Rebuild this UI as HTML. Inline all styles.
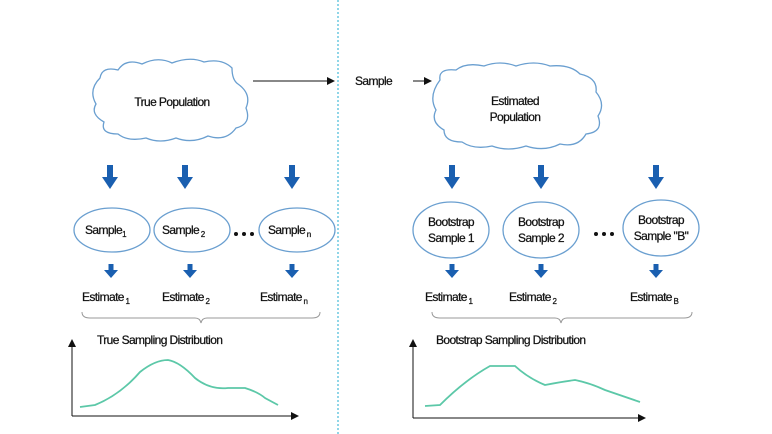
<!DOCTYPE html>
<html><head><style>body{margin:0;background:#fff}svg{display:block}text{font-family:"Liberation Sans",sans-serif;font-size:12px;fill:#111;letter-spacing:-0.6px;stroke:#111;stroke-width:0.25}</style></head>
<body>
<svg width="772" height="434" viewBox="0 0 772 434" xmlns="http://www.w3.org/2000/svg">
<defs>
<marker id="ah" markerWidth="8" markerHeight="8" refX="7" refY="4" orient="auto"><path d="M0,0 L8,4 L0,8 z" fill="#111"/></marker>
<g id="ba"><rect x="-3" y="0" width="6" height="14" fill="#1a5fb0"/><path d="M-8,12 L8,12 L0,24 z" fill="#1a5fb0"/></g>
<g id="sa"><rect x="-2.5" y="0" width="5" height="7" fill="#1a5fb0"/><path d="M-7,6 L7,6 L0,14 z" fill="#1a5fb0"/></g>
<g id="dots"><circle cx="0" cy="0" r="2" fill="#111"/><circle cx="8" cy="0" r="2" fill="#111"/><circle cx="16" cy="0" r="2" fill="#111"/></g>
</defs>
<line x1="338" y1="0" x2="338" y2="434" stroke="#6cc8e0" stroke-width="1.5" stroke-dasharray="2,2"/>
<path d="M100,78 Q102,66 118,70 Q126,58 142,64 Q158,56 172,63 Q190,56 204,62 Q222,58 232,68 Q232,80 238,84 Q252,94 246,108 Q252,124 236,128 Q226,142 208,136 Q192,144 176,138 Q160,144 146,138 Q128,142 118,134 Q100,134 104,122 Q90,114 96,104 Q88,90 100,78 z" fill="#fff" stroke="#6a9fd0" stroke-width="1.3"/>
<text x="172" y="106" text-anchor="middle">True Population</text>
<line x1="253" y1="81" x2="334" y2="81" stroke="#111" marker-end="url(#ah)"/>
<text x="355" y="85">Sample</text>
<line x1="413" y1="81" x2="431" y2="81" stroke="#111" marker-end="url(#ah)"/>
<path d="M440,80 Q438,68 456,70 Q466,62 484,66 Q500,60 516,66 Q534,60 550,66 Q570,64 580,74 Q598,78 596,92 Q606,104 598,116 Q604,132 586,134 Q578,148 560,144 Q544,152 526,146 Q508,152 492,146 Q474,150 462,142 Q444,142 444,130 Q430,122 436,110 Q428,96 440,80 z" fill="#fff" stroke="#6a9fd0" stroke-width="1.3"/>
<text x="515" y="105" text-anchor="middle">Estimated</text>
<text x="515" y="121" text-anchor="middle">Population</text>
<use href="#ba" x="110" y="165"/><use href="#ba" x="185" y="165"/><use href="#ba" x="292" y="165"/>
<use href="#ba" x="452" y="165"/><use href="#ba" x="541" y="165"/><use href="#ba" x="656" y="165"/>
<g fill="#fff" stroke="#6a9fd0" stroke-width="1.3">
<ellipse cx="112" cy="230" rx="38" ry="22"/><ellipse cx="192" cy="230" rx="38" ry="22"/><ellipse cx="297" cy="230" rx="38" ry="22"/>
<ellipse cx="451" cy="230" rx="38" ry="28"/><ellipse cx="541" cy="230" rx="38" ry="28"/><ellipse cx="661" cy="228" rx="38" ry="28"/>
</g>
<text x="85" y="234">Sample<tspan font-size="8" dy="3">1</tspan></text>
<text x="162" y="234">Sample<tspan font-size="8" dy="3"> 2</tspan></text>
<text x="268" y="234">Sample<tspan font-size="8" dy="3"> n</tspan></text>
<use href="#dots" x="236" y="234"/>
<use href="#dots" x="596" y="234"/>
<text x="451" y="226" text-anchor="middle">Bootstrap</text><text x="451" y="242" text-anchor="middle">Sample 1</text>
<text x="541" y="226" text-anchor="middle">Bootstrap</text><text x="541" y="242" text-anchor="middle">Sample 2</text>
<text x="661" y="224" text-anchor="middle">Bootstrap</text><text x="661" y="240" text-anchor="middle">Sample "B"</text>
<use href="#sa" x="111" y="264"/><use href="#sa" x="190" y="264"/><use href="#sa" x="292" y="264"/>
<use href="#sa" x="452" y="264"/><use href="#sa" x="541" y="264"/><use href="#sa" x="656" y="264"/>
<text x="82" y="301">Estimate<tspan font-size="8" dy="3"> 1</tspan></text>
<text x="162" y="301">Estimate<tspan font-size="8" dy="3"> 2</tspan></text>
<text x="260" y="301">Estimate<tspan font-size="8" dy="3"> n</tspan></text>
<text x="425" y="301">Estimate<tspan font-size="8" dy="3"> 1</tspan></text>
<text x="509" y="301">Estimate<tspan font-size="8" dy="3"> 2</tspan></text>
<text x="630" y="301">Estimate<tspan font-size="8" dy="3"> B</tspan></text>
<g fill="none" stroke="#999" stroke-width="1">
<path d="M82,312 Q82,318 90,318 L195,318 Q200,318 201,323 Q202,318 207,318 L312,318 Q320,318 320,312"/>
<path d="M432,312 Q432,318 440,318 L555,318 Q560,318 561,323 Q562,318 567,318 L684,318 Q692,318 692,312"/>
</g>
<text x="97" y="344">True Sampling Distribution</text>
<text x="436" y="344">Bootstrap Sampling Distribution</text>
<g stroke="#111" fill="none">
<line x1="72" y1="416" x2="72" y2="340" marker-end="url(#ah)"/><line x1="72" y1="416" x2="298" y2="416" marker-end="url(#ah)"/>
<line x1="413" y1="418" x2="413" y2="340" marker-end="url(#ah)"/><line x1="413" y1="418" x2="645" y2="418" marker-end="url(#ah)"/>
</g>
<path d="M80,407 L95,405 Q120,395 140,372 Q155,360 168,360 Q180,362 195,378 Q210,390 228,388 L245,388 Q258,392 265,398 L278,405" fill="none" stroke="#5cc8a8" stroke-width="1.8"/>
<path d="M425,406 L440,405 Q465,380 490,366 L515,366 Q528,378 545,385 Q560,382 575,380 Q590,383 605,390 L640,402" fill="none" stroke="#5cc8a8" stroke-width="1.8"/>
</svg>
</body></html>
